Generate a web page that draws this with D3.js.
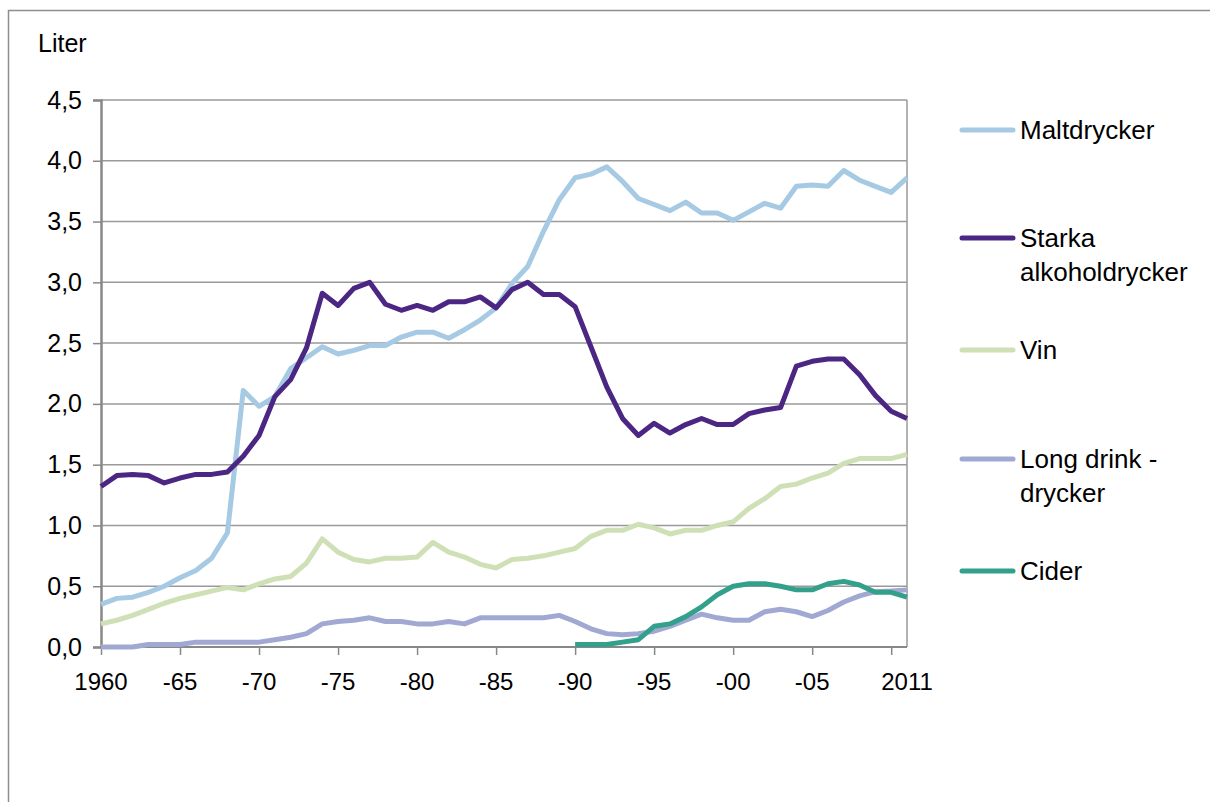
<!DOCTYPE html>
<html>
<head>
<meta charset="utf-8">
<script src="https://cdn.jsdelivr.net/npm/d3@7"></script>
<style>
  html, body { margin: 0; padding: 0; background: #fff; }
  svg { display: block; font-family: "Liberation Sans", Arial, sans-serif; }
</style>
</head>
<body>
<svg id="chart" width="1210" height="802"></svg>
<script>
const years = d3.range(1960, 2012);

const maltdrycker = [0.35,0.40,0.41,0.45,0.50,0.57,0.63,0.73,0.94,2.11,1.98,2.06,2.29,2.38,2.47,2.41,2.44,2.48,2.48,2.55,2.59,2.59,2.54,2.61,2.69,2.79,2.99,3.13,3.42,3.68,3.86,3.89,3.95,3.83,3.69,3.64,3.59,3.66,3.57,3.57,3.51,3.58,3.65,3.61,3.79,3.80,3.79,3.92,3.84,3.79,3.74,3.86];
const starka = [1.32,1.41,1.42,1.41,1.35,1.39,1.42,1.42,1.44,1.57,1.74,2.06,2.20,2.46,2.91,2.81,2.95,3.00,2.82,2.77,2.81,2.77,2.84,2.84,2.88,2.79,2.94,3.00,2.90,2.90,2.80,2.47,2.14,1.88,1.74,1.84,1.76,1.83,1.88,1.83,1.83,1.92,1.95,1.97,2.31,2.35,2.37,2.37,2.24,2.07,1.94,1.88];
const vin = [0.19,0.22,0.26,0.31,0.36,0.40,0.43,0.46,0.49,0.47,0.52,0.56,0.58,0.69,0.89,0.78,0.72,0.70,0.73,0.73,0.74,0.86,0.78,0.74,0.68,0.65,0.72,0.73,0.75,0.78,0.81,0.91,0.96,0.96,1.01,0.98,0.93,0.96,0.96,1.00,1.03,1.14,1.22,1.32,1.34,1.39,1.43,1.51,1.55,1.55,1.55,1.585];
const longdrink = [0.00,0.00,0.00,0.02,0.02,0.02,0.04,0.04,0.04,0.04,0.04,0.06,0.08,0.11,0.19,0.21,0.22,0.24,0.21,0.21,0.19,0.19,0.21,0.19,0.24,0.24,0.24,0.24,0.24,0.26,0.21,0.15,0.11,0.10,0.11,0.13,0.17,0.22,0.27,0.24,0.22,0.22,0.29,0.31,0.29,0.25,0.30,0.37,0.42,0.455,0.46,0.47];
const ciderYears = d3.range(1990, 2012);
const cider = [0.02,0.02,0.02,0.04,0.06,0.17,0.19,0.25,0.33,0.43,0.50,0.52,0.52,0.50,0.47,0.47,0.52,0.54,0.51,0.45,0.45,0.41];

const seriesNames = ["Maltdrycker", "Starka alkoholdrycker", "Vin", "Long drink - drycker", "Cider"];
const legendLines = [["Maltdrycker"], ["Starka", "alkoholdrycker"], ["Vin"], ["Long drink -", "drycker"], ["Cider"]];
const seriesColors = ["#a6cae3", "#4b2683", "#d0e0b6", "#a1a9d3", "#33a08c"];
const yTicks = [0, 0.5, 1.0, 1.5, 2.0, 2.5, 3.0, 3.5, 4.0, 4.5];
const xTickYears = [1960, 1965, 1970, 1975, 1980, 1985, 1990, 1995, 2000, 2005, 2010];
const xLabelYears = [1960, 1965, 1970, 1975, 1980, 1985, 1990, 1995, 2000, 2005, 2011];
const xLabels = ["1960", "-65", "-70", "-75", "-80", "-85", "-90", "-95", "-00", "-05", "2011"];
const yTitle = "Liter";

const seriesData = [
  years.map((yr, i) => [yr, maltdrycker[i]]),
  years.map((yr, i) => [yr, starka[i]]),
  years.map((yr, i) => [yr, vin[i]]),
  years.map((yr, i) => [yr, longdrink[i]]),
  ciderYears.map((yr, i) => [yr, cider[i]])
];

const svg = d3.select("#chart");
const pLeft = 101, pRight = 907, pTop = 100, pBottom = 647;

const x = d3.scaleLinear().domain([1960, 2011]).range([pLeft, pRight]);
const y = d3.scaleLinear().domain([0, 4.5]).range([pBottom, pTop]);

// outer frame
svg.append("path")
  .attr("d", `M8.5,802 L8.5,10.5 L1210,10.5`)
  .attr("fill", "none").attr("stroke", "#8e8e8e").attr("stroke-width", 1.5);

// gridlines
const grid = svg.append("g");
grid.selectAll("line").data(yTicks.filter(d => d > 0)).enter().append("line")
  .attr("x1", pLeft).attr("x2", pRight)
  .attr("y1", d => y(d)).attr("y2", d => y(d))
  .attr("stroke", "#9a9a9a").attr("stroke-width", 1.5);

// right border of plot
svg.append("line").attr("x1", pRight).attr("x2", pRight).attr("y1", pTop).attr("y2", pBottom)
  .attr("stroke", "#9a9a9a").attr("stroke-width", 1.5);

// y axis
const yAxis = d3.axisLeft(y).tickValues(yTicks).tickSize(8).tickPadding(11)
  .tickFormat(d => d3.format(".1f")(d).replace(".", ","));
const gy = svg.append("g").attr("transform", `translate(${pLeft},0)`).call(yAxis);
gy.select(".domain").attr("stroke", "#888").attr("stroke-width", 2.5);
gy.selectAll(".tick line").attr("stroke", "#888").attr("stroke-width", 1.5);
gy.selectAll(".tick text").attr("font-size", 25).attr("fill", "#000")
  .attr("font-family", "Liberation Sans, Arial, sans-serif");

// x axis
const xAxis = d3.axisBottom(x).tickValues(xTickYears).tickSize(8).tickFormat("");
const gx = svg.append("g").attr("transform", `translate(0,${pBottom})`).call(xAxis);
gx.select(".domain").attr("stroke", "#888").attr("stroke-width", 2).attr("d", `M${pLeft},0H${pRight}`);
gx.selectAll(".tick line").attr("stroke", "#888").attr("stroke-width", 1.5);

svg.append("g").selectAll("text").data(xLabelYears).enter().append("text")
  .attr("x", d => x(d)).attr("y", 690)
  .attr("text-anchor", "middle").attr("font-size", 24).attr("fill", "#000")
  .attr("font-family", "Liberation Sans, Arial, sans-serif")
  .text((d, i) => xLabels[i]);

// y title
svg.append("text").attr("x", 38).attr("y", 52).attr("font-size", 25).attr("fill", "#000").text(yTitle);

// lines
const line = d3.line().x(d => x(d[0])).y(d => y(d[1]));
svg.append("g").selectAll("path").data(seriesData).enter().append("path")
  .attr("d", line)
  .attr("fill", "none")
  .attr("stroke", (d, i) => seriesColors[i])
  .attr("stroke-width", 5)
  .attr("stroke-linejoin", "round")
  .attr("stroke-linecap", "butt");

// legend
const legendY = [130, 238, 350, 459, 571];
const lg = svg.append("g");
legendLines.forEach((lines, i) => {
  const g = lg.append("g").attr("transform", `translate(0,${legendY[i]})`);
  g.append("line").attr("x1", 962).attr("x2", 1013).attr("y1", 0).attr("y2", 0)
    .attr("stroke", seriesColors[i]).attr("stroke-width", 5).attr("stroke-linecap", "round");
  lines.forEach((t, j) => {
    g.append("text").attr("x", 1020).attr("y", 9 + j * 34)
      .attr("font-size", 26).attr("fill", "#000").text(t);
  });
});
</script>
</body>
</html>
